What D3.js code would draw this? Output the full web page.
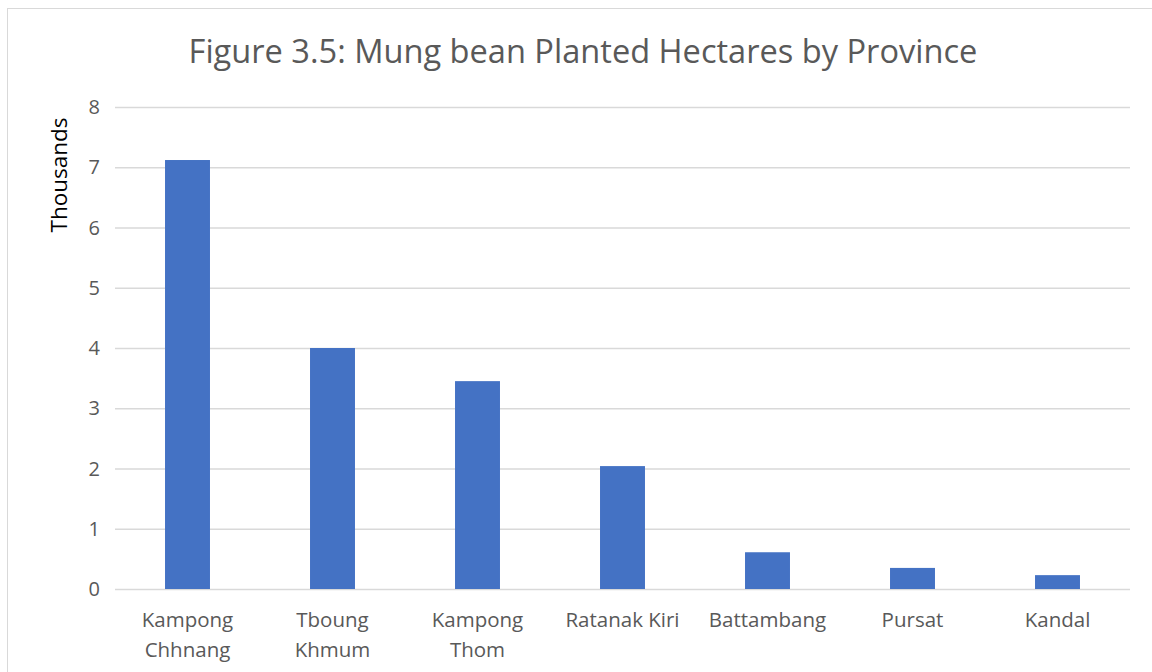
<!DOCTYPE html>
<html>
<head>
<meta charset="utf-8">
<script src="https://cdn.jsdelivr.net/npm/d3@7"></script>
<style>
  body { margin: 0; background: #fff; }
  text { font-family: "Open Sans", "Noto Sans", sans-serif; fill: #595959; }
</style>
</head>
<body>
<svg id="chart" width="1152" height="672"></svg>
<script>
const provinces = [["Kampong", "Chhnang"], ["Tboung", "Khmum"], ["Kampong", "Thom"], ["Ratanak Kiri"], ["Battambang"], ["Pursat"], ["Kandal"]];
const hectares = [7.12, 4.0, 3.45, 2.04, 0.61, 0.35, 0.23];
const yTicks = [0, 1, 2, 3, 4, 5, 6, 7, 8];

const svg = d3.select("#chart");

// outer chart border
svg.append("rect")
  .attr("x", 7.5).attr("y", 8.5)
  .attr("width", 1160).attr("height", 680)
  .attr("fill", "none").attr("stroke", "#d9d9d9");

const plotLeft = 115, plotRight = 1130, plotTop = 107, plotBottom = 589;

var x = d3.scaleBand()
  .domain(provinces.map(function(d, i) { return i; }))
  .range([plotLeft, plotRight])
  .paddingInner(0.69)
  .paddingOuter(0.345);

var y = d3.scaleLinear().domain([0, 8]).range([plotBottom, plotTop]);

// gridlines
svg.append("g")
  .selectAll("line")
  .data(yTicks)
  .enter().append("line")
  .attr("x1", plotLeft).attr("x2", plotRight)
  .attr("y1", function(d) { return y(d) + 0.5; })
  .attr("y2", function(d) { return y(d) + 0.5; })
  .attr("stroke", "#d9d9d9")
  .attr("stroke-width", 1.3);

// y tick labels
svg.append("g")
  .selectAll("text")
  .data(yTicks)
  .enter().append("text")
  .attr("x", 100)
  .attr("y", function(d) { return y(d); })
  .attr("dy", "0.35em")
  .attr("text-anchor", "end")
  .style("font-size", "20px")
  .text(function(d) { return d; });

// bars
svg.append("g")
  .selectAll("rect")
  .data(hectares)
  .enter().append("rect")
  .attr("x", function(d, i) { return x(i); })
  .attr("width", x.bandwidth())
  .attr("y", function(d) { return y(d); })
  .attr("height", function(d) { return plotBottom - y(d); })
  .attr("fill", "#4472c4");

// category labels
var cat = svg.append("g")
  .selectAll("text")
  .data(provinces)
  .enter().append("text")
  .attr("text-anchor", "middle")
  .attr("y", 627)
  .style("font-size", "20.5px");

cat.selectAll("tspan")
  .data(function(d, i) { return d.map(function(s) { return { s: s, i: i }; }); })
  .enter().append("tspan")
  .attr("x", function(d) { return x(d.i) + x.bandwidth() / 2; })
  .attr("dy", function(d, j) { return j === 0 ? 0 : 30; })
  .text(function(d) { return d.s; });

// axis title
svg.append("text")
  .attr("transform", "translate(67," + (plotTop + 68) + ") rotate(-90)")
  .attr("text-anchor", "middle")
  .style("font-size", "22.5px")
  .style("fill", "#000")
  .text("Thousands");

// chart title
svg.append("text")
  .attr("x", 583)
  .attr("y", 63)
  .attr("text-anchor", "middle")
  .style("font-size", "32.6px")
  .text("Figure 3.5: Mung bean Planted Hectares by Province");
</script>
</body>
</html>
